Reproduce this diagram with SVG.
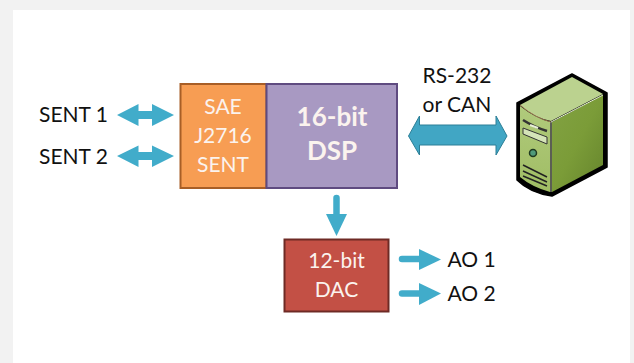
<svg xmlns="http://www.w3.org/2000/svg" width="634" height="363" viewBox="0 0 634 363">
<style>
text{font-family:Lato,"Open Sans","Liberation Sans",sans-serif;font-size:21px;text-anchor:middle}
.k{fill:#111}.w{fill:#fbf3ee}
.a{fill:#41acca}
.s{fill:none;stroke:#41acca;stroke-width:6.5;stroke-linecap:round}
</style>
<defs>
<linearGradient id="side" x1="0" x2="1" y1="0" y2="1"><stop offset="0" stop-color="#82a243"/><stop offset=".5" stop-color="#7b9c38"/><stop offset="1" stop-color="#65842c"/></linearGradient>
<linearGradient id="front" x1="0" x2="0" y1="0" y2="1"><stop offset="0" stop-color="#b0ca7c"/><stop offset="1" stop-color="#a0bd64"/></linearGradient>
</defs>
<rect width="634" height="363" fill="#f2f2f2"/>
<rect x="13" y="10" width="617" height="353" fill="#fff"/>
<g id="connectors">
<path class="a" d="M117 115 L138.500 104 V111 H152 V104 L174 115 L152 126 V119 H138.500 V126Z"/>
<path class="a" d="M117 156 L138.500 145.500 V152 H152 V145.500 L174 156 L152 167 V160 H138.500 V167Z"/>
<path d="M408.500 136 L419.500 116 V125 H496 V116 L507 136 L496 155 V145 H419.500 V155Z" fill="#41a6c4" stroke="#2c7f97" stroke-width="1"/>
<path class="s" d="M336.500 198 V216"/>
<path class="a" d="M326 214 H347 L336.500 236Z"/>
<path class="s" d="M402 259 H424"/>
<path class="a" d="M419 249 L441 259.500 L419 270Z"/>
<path class="s" d="M402 293.500 H424"/>
<path class="a" d="M419 283 L441 293.500 L419 305Z"/>
</g>
<g id="sent1"><text class="k" x="73.500" y="122">SENT 1</text></g>
<g id="sent2"><text class="k" x="73.500" y="163.500">SENT 2</text></g>
<g id="j2716">
<rect x="180.500" y="84" width="86" height="104" fill="#f79d53" stroke="#a85e26" stroke-width="2"/>
<text class="w" x="223" y="114">SAE</text>
<text class="w" x="223" y="143">J2716</text>
<text class="w" x="223" y="172">SENT</text>
</g>
<g id="dsp">
<rect x="266.500" y="84" width="130.500" height="104" fill="#a899c2" stroke="#5f4b80" stroke-width="2"/>
<text class="w" x="332" y="126" style="font-size:26px;font-weight:700">16-bit</text>
<text class="w" x="332" y="160" style="font-size:26px;font-weight:700">DSP</text>
</g>
<g id="dac">
<rect x="284.500" y="239.500" width="104" height="72" fill="#c35045" stroke="#6e2a25" stroke-width="2"/>
<text class="w" x="336.500" y="268">12-bit</text>
<text class="w" x="336.500" y="297">DAC</text>
</g>
<g id="rs232"><text class="k" x="457" y="83">RS-232</text><text class="k" x="457" y="112">or CAN</text></g>
<g id="ao1"><text class="k" x="471.500" y="267">AO 1</text></g>
<g id="ao2"><text class="k" x="471.500" y="301">AO 2</text></g>
<g id="server">
<path d="M572 74 L607 93 V167 L552 196 Q530 193 517 180 V103Z" fill="#000" stroke="#000" stroke-width="1.500" stroke-linejoin="round"/>
<path d="M572 77 L603 94 L551 121 Q535 118 520 105Z" fill="#bbd28f"/>
<path d="M603 95 V165 L552 192 V122Z" fill="url(#side)"/>
<path d="M520 106 Q535 118 550 122 V192 Q532 187 520 177Z" fill="url(#front)"/>
<path d="M520 105 Q535 118 551 122" fill="none" stroke="#b5875e" stroke-width=".8"/>
<path d="M551 122 L603 95" fill="none" stroke="#e6efd2" stroke-width="1"/>
<path d="M551 122 V192" fill="none" stroke="#e6efd2" stroke-width=".8"/>
<path d="M523 120 Q534 127 547 131" fill="none" stroke="#333" stroke-width="2.500"/>
<path d="M530 125 L538 128" stroke="#e8efd8" stroke-width="2"/>
<path d="M523 128 L547 137 V144 L523 134Z" fill="#d5e4b8" stroke="#333" stroke-width="1"/>
<circle cx="533" cy="153" r="3.500" fill="#4f9a7a" stroke="#1f3a20" stroke-width="1.500"/>
<path d="M523 165 L547 177 M523 171 L547 182 M523 176 L547 186" fill="none" stroke="#222" stroke-width="1.500"/>
</g>
</svg>
